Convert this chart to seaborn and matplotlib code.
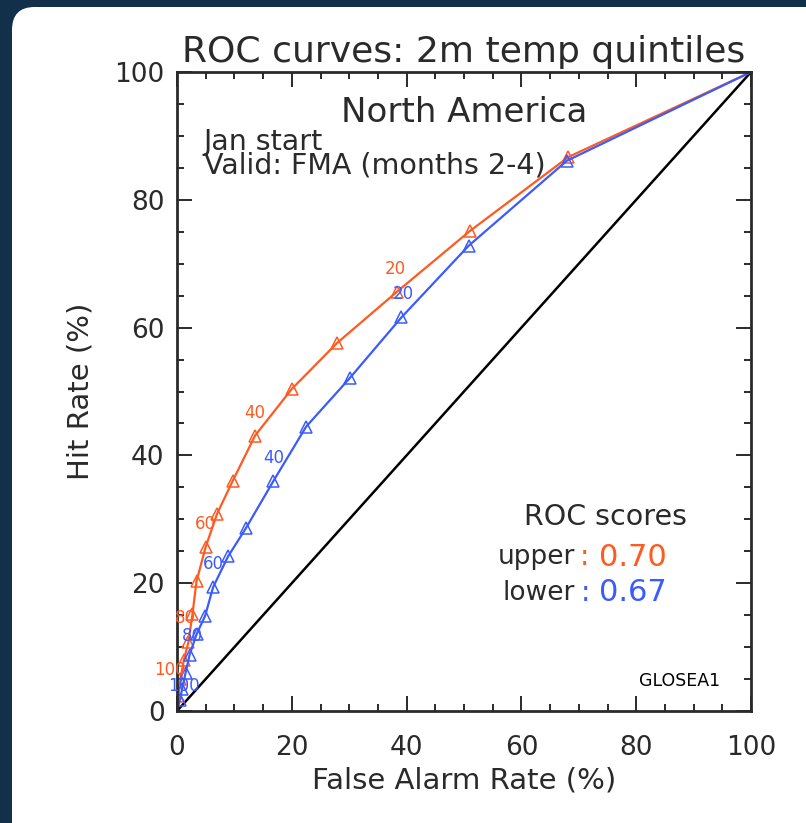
import matplotlib
matplotlib.use("Agg")
import matplotlib.pyplot as plt
from matplotlib.patches import FancyBboxPatch
import seaborn as sns
import pandas as pd

# ---- data ----
upper_far = [100, 68.2, 51.0, 38.3, 27.9, 20.0, 13.6, 9.7, 7.0, 5.0, 3.4, 2.7, 2.0, 1.2, 0.6, 0.2, 0]
upper_hit = [100, 86.7, 75.1, 65.6, 57.6, 50.4, 43.1, 36.0, 30.9, 25.7, 20.3, 15.2, 10.8, 8.0, 5.0, 2.3, 0]
lower_far = [100, 67.9, 50.8, 39.1, 30.1, 22.5, 16.8, 12.0, 8.9, 6.3, 4.9, 3.4, 2.2, 1.5, 0.9, 0.5, 0]
lower_hit = [100, 86.1, 72.8, 61.6, 52.1, 44.5, 36.0, 28.6, 24.2, 19.4, 14.9, 12.0, 8.8, 6.0, 3.5, 1.7, 0]
label_idx = [3, 6, 9, 12, 15]
label_txt = ["20", "40", "60", "80", "100"]
diag = [0, 100]
ticks = [0, 20, 40, 60, 80, 100]
roc_upper = "0.70"
roc_lower = "0.67"

ORANGE = "#ff5a1f"
BLUE = "#3b5bff"
INK = "#2a2a2a"

sns.set_theme(style="ticks")
plt.rcParams["font.family"] = ["DejaVu Sans"]

fig = plt.figure(figsize=(8.06, 8.23), dpi=100)
fig.patch.set_facecolor("#13304a")
panel = FancyBboxPatch((12 / 806, -0.05), 1.2, 1.05 - 7 / 823,
                       boxstyle="round,pad=0,rounding_size=0.028",
                       transform=fig.transFigure, facecolor="white",
                       edgecolor="none", zorder=-10)
fig.patches.append(panel)

ax = fig.add_axes([177 / 806, 1 - 711 / 823, 574 / 806, 639 / 823])
ax.set_facecolor("white")

df_u = pd.DataFrame({"far": upper_far, "hit": upper_hit})
df_l = pd.DataFrame({"far": lower_far, "hit": lower_hit})

sns.lineplot(x=diag, y=diag, color="black", lw=1.8, ax=ax)
sns.lineplot(data=df_u, x="far", y="hit", sort=False, estimator=None, color=ORANGE,
             lw=1.6, marker="^", markersize=8.5, markerfacecolor="none",
             markeredgecolor=ORANGE, markeredgewidth=1.1,
             markevery=slice(1, -1), ax=ax)
sns.lineplot(data=df_l, x="far", y="hit", sort=False, estimator=None, color=BLUE,
             lw=1.6, marker="^", markersize=8.5, markerfacecolor="none",
             markeredgecolor=BLUE, markeredgewidth=1.1,
             markevery=slice(1, -1), ax=ax)

u_off = [(-1, 16.5), (0, 16.5), (0, 16.5), (-2, 17), (-6, 19)]
l_off = [(1, 16.5), (0, 16.5), (0, 16.5), (2, 13.5), (3, 10)]
for k, (i, t) in enumerate(zip(label_idx, label_txt)):
    ax.annotate(t, (upper_far[i], upper_hit[i]), xytext=u_off[k],
                textcoords="offset points", ha="center", va="center",
                color=ORANGE, fontsize=12, clip_on=False)
    ax.annotate(t, (lower_far[i], lower_hit[i]), xytext=l_off[k],
                textcoords="offset points", ha="center", va="center",
                color=BLUE, fontsize=12, clip_on=False)

ax.set_xlim(0, 100)
ax.set_ylim(0, 100)
ax.set_xticks(ticks)
ax.set_yticks(ticks)
ax.set_xticks(range(0, 101, 5), minor=True)
ax.set_yticks(range(0, 101, 5), minor=True)
ax.tick_params(which="both", direction="in", top=True, right=True,
               color=INK, labelcolor=INK, labelsize=19, width=1.4)
ax.tick_params(which="major", length=11)
ax.tick_params(which="minor", length=5)
ax.tick_params(axis="x", pad=17)
ax.tick_params(axis="y", pad=9)
for s in ax.spines.values():
    s.set_color(INK)
    s.set_linewidth(2.0)
    s.set_visible(True)

ax.set_xlabel("False Alarm Rate (%)", fontsize=21, color=INK, labelpad=4)
ax.set_ylabel("Hit Rate (%)", fontsize=21, color=INK, labelpad=14)
ax.set_title("ROC curves: 2m temp quintiles", fontsize=26, color=INK, pad=7)

ax.text(50.1, 93.6, "North America", fontsize=24.5, color=INK, ha="center", va="center")
ax.text(4.7, 87.2, "Jan start\nValid: FMA (months 2-4)", fontsize=20.5, color=INK,
        ha="left", va="center", linespacing=0.82)
ax.text(74.6, 30.4, "ROC scores", fontsize=20.5, color=INK, ha="center", va="center")
ax.text(69.4, 24.1, "upper", fontsize=19, color=INK, ha="right", va="center")
ax.text(70.9, 24.1, ":", fontsize=20, color=ORANGE, ha="center", va="center")
ax.text(73.6, 24.1, roc_upper, fontsize=22, color=ORANGE, ha="left", va="center")
ax.text(69.4, 18.5, "lower", fontsize=19, color=INK, ha="right", va="center")
ax.text(71.2, 18.5, ":", fontsize=20, color=BLUE, ha="center", va="center")
ax.text(73.6, 18.5, roc_lower, fontsize=22, color=BLUE, ha="left", va="center")
ax.text(87.5, 4.7, "GLOSEA1", fontsize=12.5, color="black", ha="center", va="center")

fig.savefig("out.png", dpi=100, facecolor=fig.get_facecolor())
